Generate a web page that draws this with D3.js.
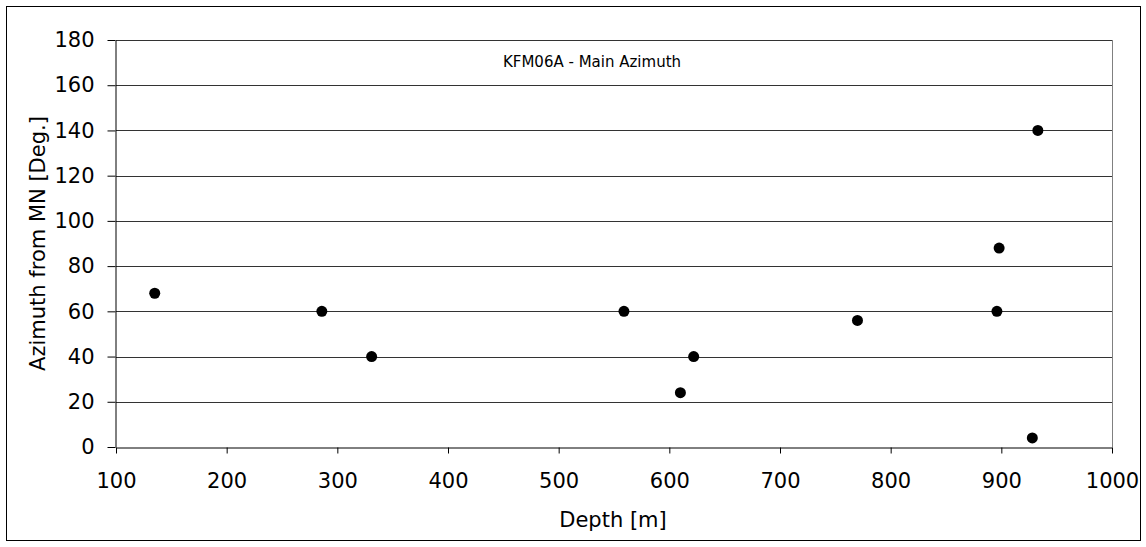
<!DOCTYPE html>
<html>
<head>
<meta charset="utf-8">
<script src="https://cdn.jsdelivr.net/npm/d3@7"></script>
<style>
  html, body { margin: 0; padding: 0; background: #fff; }
  text { font-family: "DejaVu Sans", Verdana, sans-serif; fill: #000; }
</style>
</head>
<body>
<svg id="chart" width="1146" height="547"></svg>
<script>
// Fracture main azimuth versus borehole depth
const depths   = [135, 286, 331, 559, 610, 622, 770, 896, 898, 928, 933];
const azimuths = [68, 60, 40, 60, 24, 40, 56, 60, 88, 4, 140];
const xTicks = [100, 200, 300, 400, 500, 600, 700, 800, 900, 1000];
const yTicks = [0, 20, 40, 60, 80, 100, 120, 140, 160, 180];

const svg = d3.select("#chart");
const plot = { left: 116, right: 1112, top: 40, bottom: 447 };
const FONT = "DejaVu Sans, Verdana, sans-serif";

// outer frame
svg.append("rect").attr("x", 6.5).attr("y", 6.5).attr("width", 1134).attr("height", 534)
  .attr("fill", "#fff").attr("stroke", "#000").attr("stroke-width", 1);

const x = d3.scaleLinear().domain([100, 1000]).range([plot.left, plot.right]);
const y = d3.scaleLinear().domain([0, 180]).range([plot.bottom, plot.top]);

// horizontal gridlines
svg.append("g").selectAll("line").data(yTicks.filter(d => d > 0)).join("line")
  .attr("x1", plot.left).attr("x2", plot.right)
  .attr("y1", d => Math.round(y(d)) + 0.5).attr("y2", d => Math.round(y(d)) + 0.5)
  .attr("stroke", "#333").attr("stroke-width", 1);

// right plot border
svg.append("line")
  .attr("x1", plot.right + 0.5).attr("x2", plot.right + 0.5)
  .attr("y1", plot.top).attr("y2", plot.bottom)
  .attr("stroke", "#808080");

// axes
const xAxis = svg.append("g").attr("transform", `translate(0,${plot.bottom + 0.5})`)
  .call(d3.axisBottom(x).tickValues(xTicks).tickSize(6).tickSizeOuter(0).tickPadding(20).tickFormat(d3.format("d")));
const yAxis = svg.append("g").attr("transform", `translate(${plot.left - 0.5},0)`)
  .call(d3.axisLeft(y).tickValues(yTicks).tickSize(8).tickSizeOuter(0).tickPadding(13).tickFormat(d3.format("d")));
[xAxis, yAxis].forEach(g => {
  g.select(".domain").attr("stroke", "#000");
  g.selectAll(".tick line").attr("stroke", "#000");
  g.selectAll(".tick text").attr("font-size", 21).attr("font-family", FONT).attr("fill", "#000");
});

// data points
svg.append("g").selectAll("circle").data(depths.map((d, i) => [d, azimuths[i]])).join("circle")
  .attr("cx", d => x(d[0])).attr("cy", d => y(d[1])).attr("r", 5.5).attr("fill", "#000");

// titles
svg.append("text").attr("x", 592).attr("y", 67)
  .attr("text-anchor", "middle").attr("font-size", 15).text("KFM06A - Main Azimuth");
svg.append("text").attr("x", 613).attr("y", 527)
  .attr("text-anchor", "middle").attr("font-size", 21).text("Depth [m]");
svg.append("text").attr("transform", `translate(45,${(plot.top + plot.bottom) / 2}) rotate(-90)`)
  .attr("text-anchor", "middle").attr("font-size", 21).text("Azimuth from MN [Deg.]");
</script>
</body>
</html>
